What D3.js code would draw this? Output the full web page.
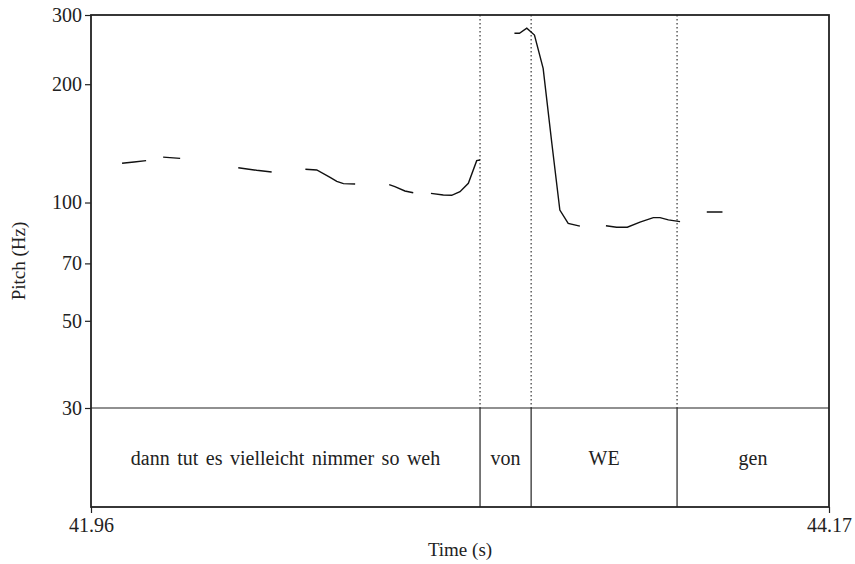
<!DOCTYPE html>
<html>
<head>
<meta charset="utf-8">
<script src="https://cdn.jsdelivr.net/npm/d3@7"></script>
<style>
    body { margin: 0; background: #fff; }
</style>
</head>
<body>
<div id="pitchChart"></div>
<script>
// pitch track (s, Hz); null marks an unvoiced gap
var contourTimes = [42.053, 42.089, 42.125, null,
    42.176, 42.227, null,
    42.401, 42.456, 42.501, null,
    42.602, 42.636, 42.676, 42.696, 42.716, 42.751, null,
    42.853, 42.870, 42.900, 42.925, null,
    42.978, 43.015, 43.040, 43.065, 43.090, 43.115, 43.125, null,
    43.228, 43.243, 43.265, 43.288, 43.314, 43.340, 43.364, 43.389, 43.424, null,
    43.502, 43.534, 43.566, 43.604, 43.644, 43.664, 43.689, 43.724, null,
    43.804, 43.851];
var contourHz = [125.9, 126.8, 127.8, null,
    130.5, 129.5, null,
    122.6, 120.8, 119.6, null,
    121.5, 121.0, 115.9, 113.2, 111.7, 111.5, null,
    111.0, 109.7, 107.0, 105.9, null,
    105.5, 104.5, 104.3, 106.5, 111.9, 127.8, 128.3, null,
    269.5, 269.5, 277.6, 266.8, 219.5, 141.5, 95.7, 88.5, 87.1, null,
    87.3, 86.5, 86.5, 89.1, 91.5, 91.5, 90.3, 89.4, null,
    94.6, 94.6];

// word tier
var boundaries = [43.125, 43.278, 43.715];
var wordLabels = ["dann tut es vielleicht nimmer so weh", "von", "WE", "gen"];

var timeRange = [41.96, 44.17];
var pitchRange = [30, 300];
var pitchTicks = [30, 50, 70, 100, 200, 300];

var serifFont = "'Liberation Serif', Tinos, 'Times New Roman', Times, 'DejaVu Serif', serif";

function styleText(sel, size) {
    sel.attr("font-family", serifFont)
        .attr("font-size", size || 19)
        .attr("fill", "#222");
}

function drawPitchChart() {
    var width = 855, height = 564;
    var left = 91, right = 829, top = 15, pitchBottom = 408, bottom = 507;

    var svg = d3.select("#pitchChart")
        .append("svg")
        .attr("width", width)
        .attr("height", height)
        .attr("font-family", serifFont);

    var x = d3.scaleLinear().domain(timeRange).range([left, right]);
    var y = d3.scaleLog().domain(pitchRange).range([pitchBottom, top]);

    // dotted boundaries over the pitch area
    svg.selectAll(".dotted")
        .data(boundaries)
        .enter().append("line")
        .attr("x1", d => x(d)).attr("x2", d => x(d))
        .attr("y1", top).attr("y2", pitchBottom)
        .attr("stroke", "#222")
        .attr("stroke-width", 1.1)
        .attr("stroke-dasharray", "1.5,2.5");

    // solid boundaries in the word tier
    svg.selectAll(".solid")
        .data(boundaries)
        .enter().append("line")
        .attr("x1", d => x(d)).attr("x2", d => x(d))
        .attr("y1", pitchBottom).attr("y2", bottom)
        .attr("stroke", "#222")
        .attr("stroke-width", 1.2);

    svg.append("line")
        .attr("x1", left).attr("x2", right)
        .attr("y1", pitchBottom).attr("y2", pitchBottom)
        .attr("stroke", "#222")
        .attr("stroke-width", 1.2);

    // pitch contour
    var points = contourTimes.map((t, i) => [t, contourHz[i]]);
    var line = d3.line()
        .defined(d => d[0] != null && d[1] != null)
        .x(d => x(d[0]))
        .y(d => y(d[1]));

    svg.append("path")
        .datum(points)
        .attr("d", line)
        .attr("fill", "none")
        .attr("stroke", "#111")
        .attr("stroke-width", 1.4);

    // word labels
    var edges = [timeRange[0]].concat(boundaries, [timeRange[1]]);
    svg.selectAll(".word")
        .data(wordLabels)
        .enter().append("text")
        .attr("x", (d, i) => (x(edges[i]) + x(edges[i + 1])) / 2)
        .attr("y", 465)
        .attr("text-anchor", "middle")
        .attr("word-spacing", 2.5)
        .call(styleText, 20)
        .text(d => d);

    // frame
    svg.append("rect")
        .attr("x", left).attr("y", top)
        .attr("width", right - left).attr("height", bottom - top)
        .attr("fill", "none")
        .attr("stroke", "#222")
        .attr("stroke-width", 1.8);

    // y axis
    var yAxis = d3.axisLeft(y)
        .tickValues(pitchTicks)
        .tickFormat(d3.format("d"))
        .tickSize(6)
        .tickPadding(3);
    var gy = svg.append("g")
        .attr("transform", "translate(" + left + ",0)")
        .call(yAxis)
        .attr("font-family", serifFont);
    gy.select(".domain").remove();
    gy.selectAll(".tick line").attr("stroke", "#222").attr("stroke-width", 1.2);
    gy.selectAll(".tick text").call(styleText, 20);

    // x axis (only the end points)
    var xAxis = d3.axisBottom(x)
        .tickValues(timeRange)
        .tickFormat(d3.format(".2f"))
        .tickSize(6)
        .tickPadding(5);
    var gx = svg.append("g")
        .attr("transform", "translate(0," + bottom + ")")
        .call(xAxis)
        .attr("font-family", serifFont);
    gx.select(".domain").remove();
    gx.selectAll(".tick line").attr("stroke", "#222").attr("stroke-width", 1.2);
    gx.selectAll(".tick text").call(styleText, 20);

    // axis titles
    svg.append("text")
        .attr("x", (left + right) / 2)
        .attr("y", 556)
        .attr("text-anchor", "middle")
        .call(styleText, 19)
        .text("Time (s)");

    svg.append("text")
        .attr("transform", "translate(25," + ((top + bottom) / 2) + ") rotate(-90)")
        .attr("text-anchor", "middle")
        .call(styleText, 19)
        .text("Pitch (Hz)");
}

drawPitchChart();
</script>
</body>
</html>
